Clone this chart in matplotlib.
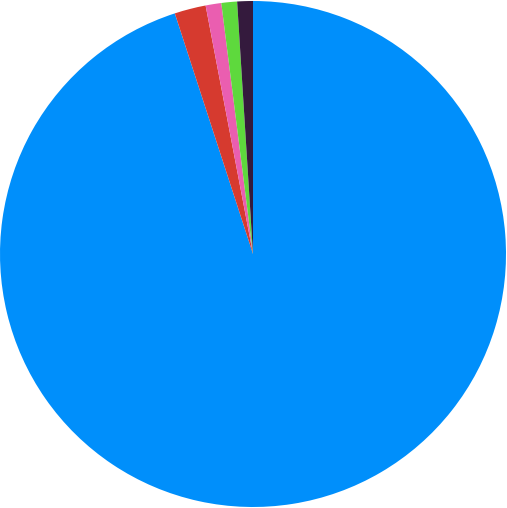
import matplotlib.pyplot as plt

# Slice order: clockwise from 12 o'clock
labels = ["A", "B", "C", "D", "E"]
values = [95, 2, 1, 1, 1]
colors = ["#008ffb", "#d63a2f", "#ea5eb0", "#5ed93d", "#341a3d"]

fig = plt.figure(figsize=(5.07, 5.08), dpi=100)
ax = fig.add_axes([0.0, 0.0, 1.0, 1.0])
ax.pie(values, colors=colors, startangle=90, counterclock=False,
       radius=1.0, wedgeprops=dict(linewidth=0))
ax.set_xlim(-253 / 253, 254 / 253)
ax.set_ylim(-254 / 253, 254 / 253)
ax.set_aspect("equal")
ax.axis("off")

fig.savefig("out.png", dpi=100, facecolor="white")
